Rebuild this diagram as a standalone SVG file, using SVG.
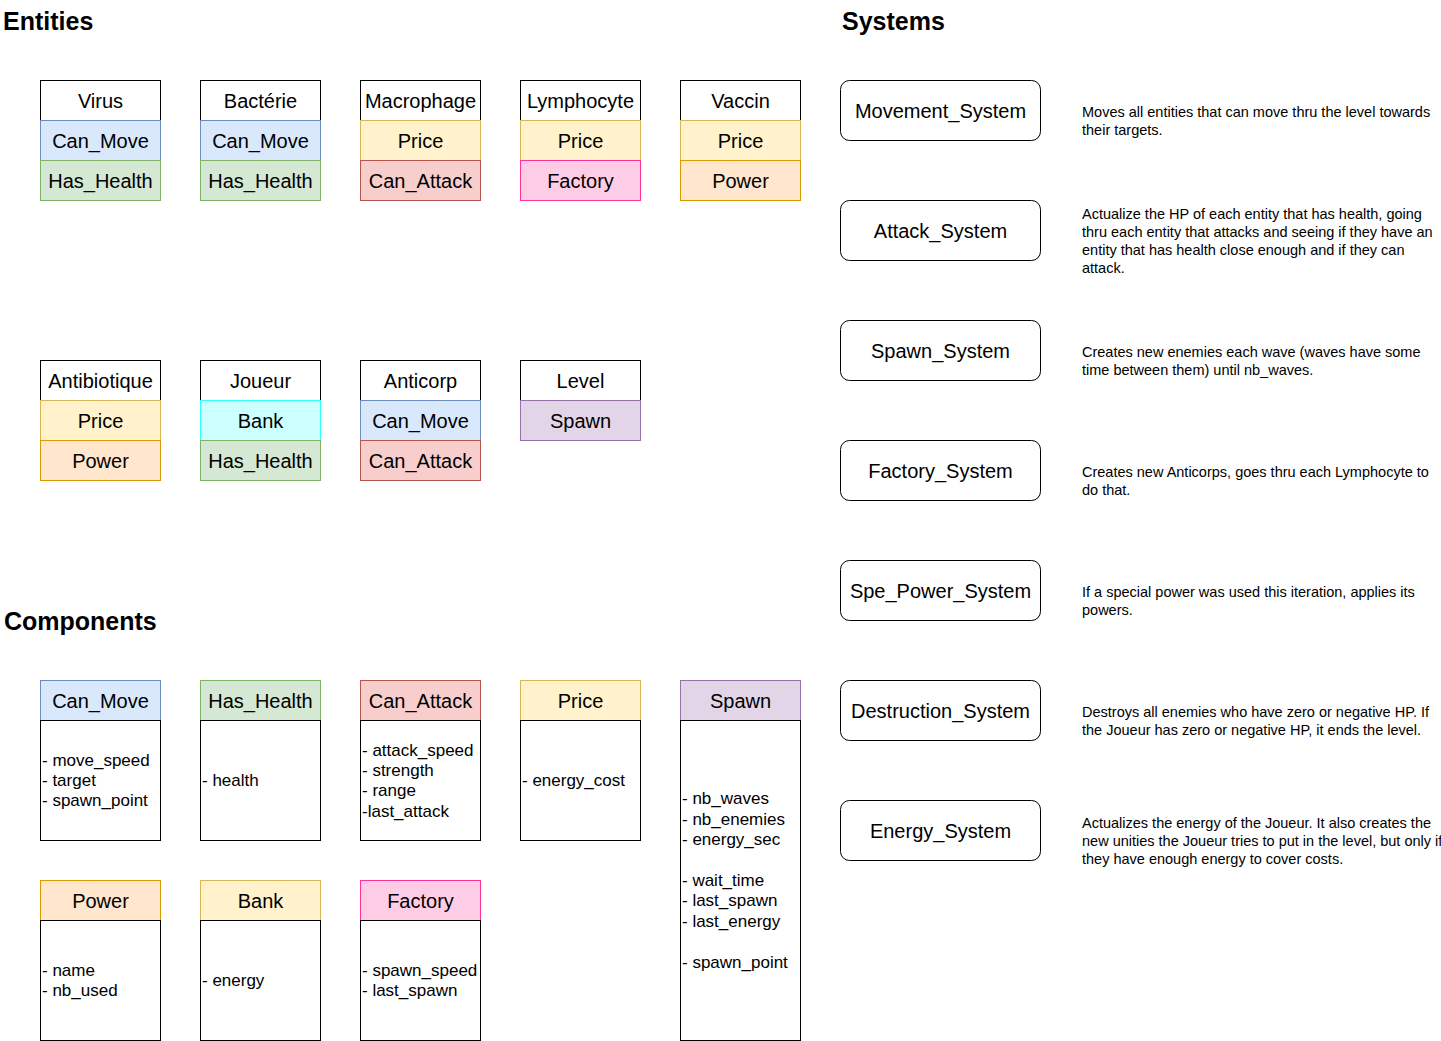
<svg xmlns="http://www.w3.org/2000/svg" width="1441" height="1041" viewBox="0 0 1441 1041">
<style>
text{font-family:"Liberation Sans",Arial,sans-serif;fill:#000}
.t{font-size:20px;text-anchor:middle}
.h{font-size:25px;font-weight:bold}
.a{font-size:17px}
.d{font-size:14.5px}
.w{fill:#fff;stroke:#000;stroke-width:1}
.blue{fill:#dae8fc;stroke:#6c8ebf}
.green{fill:#d5e8d4;stroke:#82b366}
.yellow{fill:#fff2cc;stroke:#d6b656}
.red{fill:#f8cecc;stroke:#b85450}
.orange{fill:#ffe6cc;stroke:#d79b00}
.purple{fill:#e1d5e7;stroke:#9673a6}
.pink{fill:#ffcce6;stroke:#ff3399}
.cyan{fill:#ccffff;stroke:#33ffff}
.sys{fill:#fff;stroke:#000;stroke-width:1}
</style>
<rect width="1441" height="1041" fill="#fff"/>
<text class="h" x="3" y="30">Entities</text>
<text class="h" x="842" y="30">Systems</text>
<text class="h" x="4" y="630">Components</text>

<g id="entities">
<g id="virus"><rect class="w" x="40.5" y="80.5" width="120" height="40"/><text class="t" x="100.5" y="108">Virus</text>
<rect class="blue" x="40.5" y="120.5" width="120" height="40"/><text class="t" x="100.5" y="148">Can_Move</text>
<rect class="green" x="40.5" y="160.5" width="120" height="40"/><text class="t" x="100.5" y="188">Has_Health</text></g>
<g id="bacterie"><rect class="w" x="200.5" y="80.5" width="120" height="40"/><text class="t" x="260.5" y="108">Bactérie</text>
<rect class="blue" x="200.5" y="120.5" width="120" height="40"/><text class="t" x="260.5" y="148">Can_Move</text>
<rect class="green" x="200.5" y="160.5" width="120" height="40"/><text class="t" x="260.5" y="188">Has_Health</text></g>
<g id="macrophage"><rect class="w" x="360.5" y="80.5" width="120" height="40"/><text class="t" x="420.5" y="108">Macrophage</text>
<rect class="yellow" x="360.5" y="120.5" width="120" height="40"/><text class="t" x="420.5" y="148">Price</text>
<rect class="red" x="360.5" y="160.5" width="120" height="40"/><text class="t" x="420.5" y="188">Can_Attack</text></g>
<g id="lymphocyte"><rect class="w" x="520.5" y="80.5" width="120" height="40"/><text class="t" x="580.5" y="108">Lymphocyte</text>
<rect class="yellow" x="520.5" y="120.5" width="120" height="40"/><text class="t" x="580.5" y="148">Price</text>
<rect class="pink" x="520.5" y="160.5" width="120" height="40"/><text class="t" x="580.5" y="188">Factory</text></g>
<g id="vaccin"><rect class="w" x="680.5" y="80.5" width="120" height="40"/><text class="t" x="740.5" y="108">Vaccin</text>
<rect class="yellow" x="680.5" y="120.5" width="120" height="40"/><text class="t" x="740.5" y="148">Price</text>
<rect class="orange" x="680.5" y="160.5" width="120" height="40"/><text class="t" x="740.5" y="188">Power</text></g>

<g id="antibiotique"><rect class="w" x="40.5" y="360.5" width="120" height="40"/><text class="t" x="100.5" y="388">Antibiotique</text>
<rect class="yellow" x="40.5" y="400.5" width="120" height="40"/><text class="t" x="100.5" y="428">Price</text>
<rect class="orange" x="40.5" y="440.5" width="120" height="40"/><text class="t" x="100.5" y="468">Power</text></g>
<g id="joueur"><rect class="w" x="200.5" y="360.5" width="120" height="40"/><text class="t" x="260.5" y="388">Joueur</text>
<rect class="cyan" x="200.5" y="400.5" width="120" height="40"/><text class="t" x="260.5" y="428">Bank</text>
<rect class="green" x="200.5" y="440.5" width="120" height="40"/><text class="t" x="260.5" y="468">Has_Health</text></g>
<g id="anticorp"><rect class="w" x="360.5" y="360.5" width="120" height="40"/><text class="t" x="420.5" y="388">Anticorp</text>
<rect class="blue" x="360.5" y="400.5" width="120" height="40"/><text class="t" x="420.5" y="428">Can_Move</text>
<rect class="red" x="360.5" y="440.5" width="120" height="40"/><text class="t" x="420.5" y="468">Can_Attack</text></g>
<g id="level"><rect class="w" x="520.5" y="360.5" width="120" height="40"/><text class="t" x="580.5" y="388">Level</text>
<rect class="purple" x="520.5" y="400.5" width="120" height="40"/><text class="t" x="580.5" y="428">Spawn</text></g>
</g>

<g id="components">
<g id="c_can_move"><rect class="blue" x="40.5" y="680.5" width="120" height="40"/><text class="t" x="100.5" y="708">Can_Move</text>
<rect class="w" x="40.5" y="720.5" width="120" height="120"/>
<text class="a" x="42" y="766">- move_speed</text><text class="a" x="42" y="786">- target</text><text class="a" x="42" y="806">- spawn_point</text></g>
<g id="c_has_health"><rect class="green" x="200.5" y="680.5" width="120" height="40"/><text class="t" x="260.5" y="708">Has_Health</text>
<rect class="w" x="200.5" y="720.5" width="120" height="120"/>
<text class="a" x="202" y="786">- health</text></g>
<g id="c_can_attack"><rect class="red" x="360.5" y="680.5" width="120" height="40"/><text class="t" x="420.5" y="708">Can_Attack</text>
<rect class="w" x="360.5" y="720.5" width="120" height="120"/>
<text class="a" x="362" y="755.5">- attack_speed</text><text class="a" x="362" y="776">- strength</text><text class="a" x="362" y="796.3">- range</text><text class="a" x="362" y="816.7">-last_attack</text></g>
<g id="c_price"><rect class="yellow" x="520.5" y="680.5" width="120" height="40"/><text class="t" x="580.5" y="708">Price</text>
<rect class="w" x="520.5" y="720.5" width="120" height="120"/>
<text class="a" x="522" y="786">- energy_cost</text></g>
<g id="c_spawn"><rect class="purple" x="680.5" y="680.5" width="120" height="40"/><text class="t" x="740.5" y="708">Spawn</text>
<rect class="w" x="680.5" y="720.5" width="120" height="320"/>
<text class="a" x="682" y="804.4">- nb_waves</text><text class="a" x="682" y="824.8">- nb_enemies</text><text class="a" x="682" y="845.2">- energy_sec</text>
<text class="a" x="682" y="886">- wait_time</text><text class="a" x="682" y="906.4">- last_spawn</text><text class="a" x="682" y="926.8">- last_energy</text>
<text class="a" x="682" y="967.6">- spawn_point</text></g>
<g id="c_power"><rect class="orange" x="40.5" y="880.5" width="120" height="40"/><text class="t" x="100.5" y="908">Power</text>
<rect class="w" x="40.5" y="920.5" width="120" height="120"/>
<text class="a" x="42" y="976">- name</text><text class="a" x="42" y="996.2">- nb_used</text></g>
<g id="c_bank"><rect class="yellow" x="200.5" y="880.5" width="120" height="40"/><text class="t" x="260.5" y="908">Bank</text>
<rect class="w" x="200.5" y="920.5" width="120" height="120"/>
<text class="a" x="202" y="986">- energy</text></g>
<g id="c_factory"><rect class="pink" x="360.5" y="880.5" width="120" height="40"/><text class="t" x="420.5" y="908">Factory</text>
<rect class="w" x="360.5" y="920.5" width="120" height="120"/>
<text class="a" x="362" y="976">- spawn_speed</text><text class="a" x="362" y="996.2">- last_spawn</text></g>
</g>

<g id="systems">
<g id="movement_system"><rect class="sys" x="840.5" y="80.5" width="200" height="60" rx="9"/><text class="t" x="940.5" y="118">Movement_System</text>
<text class="d" x="1082" y="117">Moves all entities that can move thru the level towards</text><text class="d" x="1082" y="135">their targets.</text></g>
<g id="attack_system"><rect class="sys" x="840.5" y="200.5" width="200" height="60" rx="9"/><text class="t" x="940.5" y="238">Attack_System</text>
<text class="d" x="1082" y="219">Actualize the HP of each entity that has health, going</text><text class="d" x="1082" y="237">thru each entity that attacks and seeing if they have an</text><text class="d" x="1082" y="255">entity that has health close enough and if they can</text><text class="d" x="1082" y="273">attack.</text></g>
<g id="spawn_system"><rect class="sys" x="840.5" y="320.5" width="200" height="60" rx="9"/><text class="t" x="940.5" y="358">Spawn_System</text>
<text class="d" x="1082" y="357">Creates new enemies each wave (waves have some</text><text class="d" x="1082" y="375">time between them) until nb_waves.</text></g>
<g id="factory_system"><rect class="sys" x="840.5" y="440.5" width="200" height="60" rx="9"/><text class="t" x="940.5" y="478">Factory_System</text>
<text class="d" x="1082" y="477">Creates new Anticorps, goes thru each Lymphocyte to</text><text class="d" x="1082" y="495">do that.</text></g>
<g id="spe_power_system"><rect class="sys" x="840.5" y="560.5" width="200" height="60" rx="9"/><text class="t" x="940.5" y="598">Spe_Power_System</text>
<text class="d" x="1082" y="597">If a special power was used this iteration, applies its</text><text class="d" x="1082" y="615">powers.</text></g>
<g id="destruction_system"><rect class="sys" x="840.5" y="680.5" width="200" height="60" rx="9"/><text class="t" x="940.5" y="718">Destruction_System</text>
<text class="d" x="1082" y="717">Destroys all enemies who have zero or negative HP. If</text><text class="d" x="1082" y="735">the Joueur has zero or negative HP, it ends the level.</text></g>
<g id="energy_system"><rect class="sys" x="840.5" y="800.5" width="200" height="60" rx="9"/><text class="t" x="940.5" y="838">Energy_System</text>
<text class="d" x="1082" y="828">Actualizes the energy of the Joueur. It also creates the</text><text class="d" x="1082" y="846">new unities the Joueur tries to put in the level, but only if</text><text class="d" x="1082" y="864">they have enough energy to cover costs.</text></g>
</g>
<g id="connectors"></g>
</svg>
